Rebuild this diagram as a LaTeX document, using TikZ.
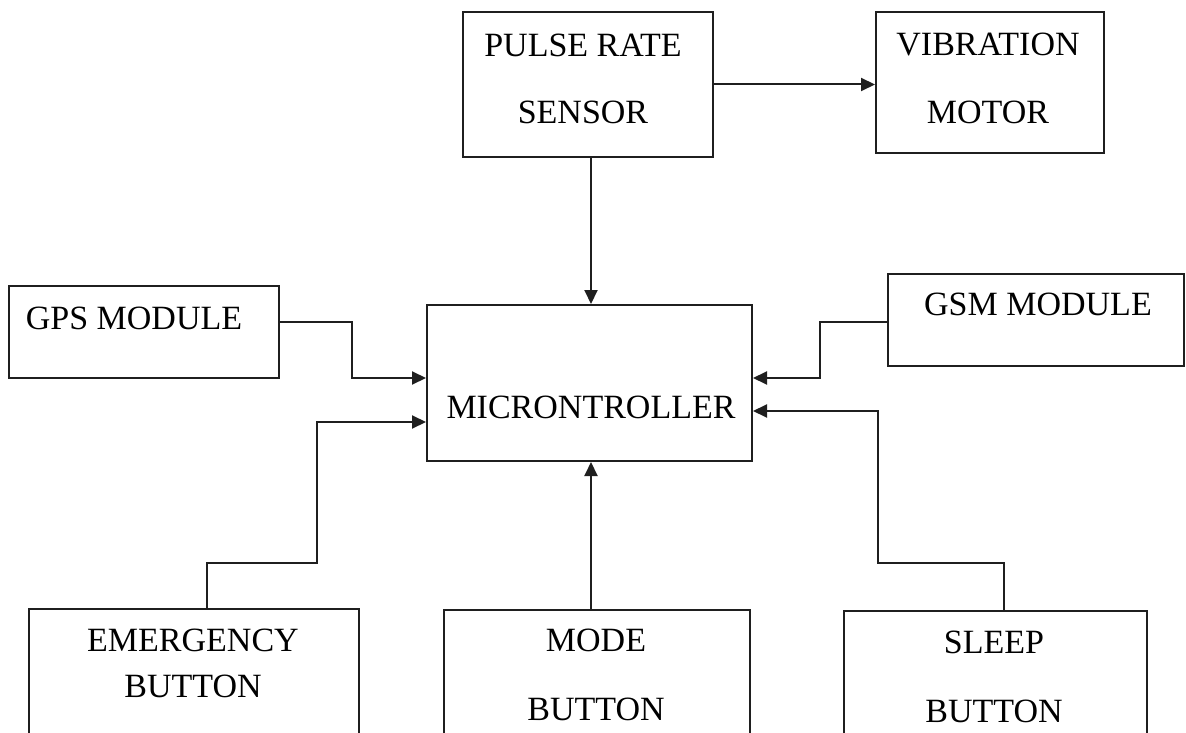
\documentclass[tikz,border=0pt]{standalone}
\usepackage{fontspec}
\setmainfont{Liberation Serif}
\usetikzlibrary{arrows.meta}
\begin{document}
\begin{tikzpicture}[x=1pt,y=-1pt,
  box/.style={draw=black!88, line width=2pt, inner sep=0pt, rectangle},
  lbl/.style={inner sep=0pt, font=\fontsize{34}{37}\selectfont, text=black},
  arr/.style={draw=black!88, line width=2pt, -{Triangle[length=14pt,width=13pt]}},
  ln/.style={draw=black!88, line width=2pt}]
\useasboundingbox (0,0) rectangle (1186,733);
\clip (0,0) rectangle (1186,733);
% boxes
\node[box, minimum width=250pt, minimum height=145pt] (pulse) at (588,84.5) {};
\node[box, minimum width=228pt, minimum height=141pt] (vib) at (990,82.5) {};
\node[box, minimum width=270pt, minimum height=92pt] (gps) at (144,332) {};
\node[box, minimum width=296pt, minimum height=92pt] (gsm) at (1036,320) {};
\node[box, minimum width=325pt, minimum height=156pt] (micro) at (589.5,383) {};
\node[box, minimum width=330pt, minimum height=191pt] (emer) at (194,704.5) {};
\node[box, minimum width=306pt, minimum height=190pt] (mode) at (597,705) {};
\node[box, minimum width=303pt, minimum height=189pt] (sleep) at (995.5,705.5) {};
% labels
\node[lbl] (tpulse1) at (583,45) {PULSE RATE};
\node[lbl] (tpulse2) at (583,112) {SENSOR};
\node[lbl] (tvib1) at (988,45) {VIBRATION};
\node[lbl] (tvib2) at (988,112) {MOTOR};
\node[lbl] (tgps) at (134,318) {GPS MODULE};
\node[lbl] (tgsm) at (1038,304) {GSM MODULE};
\node[lbl] (tmicro) at (591,407) {MICRONTROLLER};
\node[lbl] (temer1) at (193,640) {EMERGENCY};
\node[lbl] (temer2) at (193,686) {BUTTON};
\node[lbl] (tmode1) at (596,640) {MODE};
\node[lbl] (tmode2) at (596,709) {BUTTON};
\node[lbl] (tsleep1) at (994,642) {SLEEP};
\node[lbl] (tsleep2) at (994,711) {BUTTON};
% connectors
\draw[arr] (pulse.east) -- (vib.west |- pulse.east);
\draw[arr] (pulse.south -| 591,0) -- (micro.north -| 591,0);
\draw[arr] (gps.east |- 0,322) -- (352,322) -- (352,378) -- (micro.west |- 0,378);
\draw[arr] (emer.north -| 207,0) -- (207,563) -- (317,563) -- (317,422) -- (micro.west |- 0,422);
\draw[arr] (mode.north -| 591,0) -- (micro.south -| 591,0);
\draw[arr] (gsm.west |- 0,322) -- (820,322) -- (820,378) -- (micro.east |- 0,378);
\draw[arr] (sleep.north -| 1004,0) -- (1004,563) -- (878,563) -- (878,411) -- (micro.east |- 0,411);
\end{tikzpicture}
\end{document}
